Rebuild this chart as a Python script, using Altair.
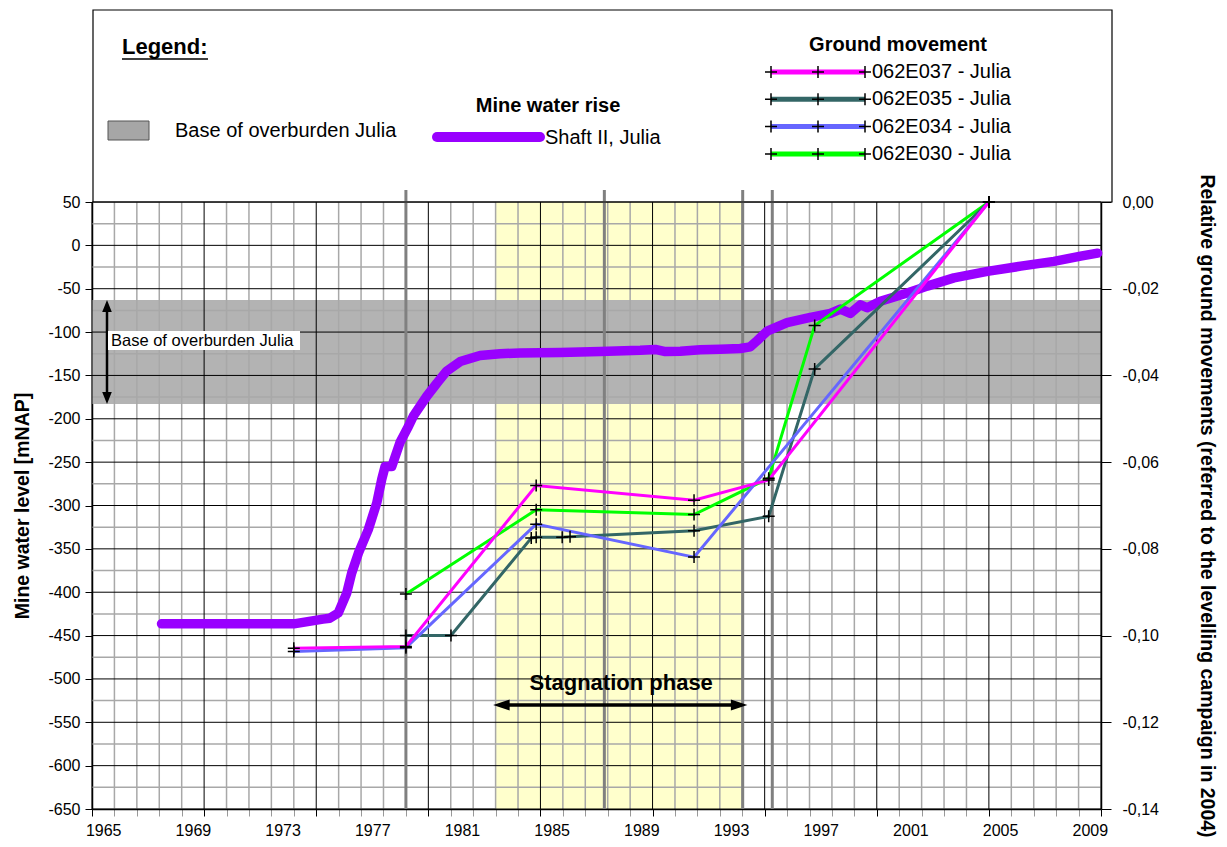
import altair as alt
import pandas as pd

FONT = "Liberation Sans, Arial, Helvetica, sans-serif"

# ---------------- data ----------------
shaft_year = [1967.6, 1973.5, 1974.8, 1975.1, 1975.48, 1975.86, 1976.08, 1976.38, 1976.82,
              1977.2, 1977.42, 1977.57, 1977.87, 1978.24, 1978.61, 1978.83, 1979.43, 1979.88,
              1980.32, 1980.92, 1981.81, 1982.7, 1983.59, 1985.38, 1987.16, 1988.95, 1989.62,
              1990.07, 1990.74, 1991.63, 1992.52, 1993.41, 1993.86, 1994.16, 1994.61, 1995.5,
              1996.54, 1997.43, 1997.88, 1998.32, 1998.77, 1999.07, 1999.66, 2000.86, 2001.75,
              2002.94, 2004.43, 2005.92, 2007.4, 2008.59, 2009.35]
shaft_level = [-436.5, -436.5, -431, -430, -424, -401, -378, -355, -328,
               -297, -270, -255, -255, -227, -209, -197, -174, -159,
               -145, -134, -127, -125, -124, -123.5, -122.5, -121, -120,
               -122.5, -122, -120.5, -119.7, -119, -117, -110, -99, -89,
               -83, -78.5, -73.5, -78.5, -68.5, -72, -64.5, -55, -47,
               -37.5, -30, -24, -18.5, -12.5, -9]

g037_year = [1973.5, 1978.5, 1984.31, 1991.35, 1994.68, 2004.5]
g037_val = [-0.1029, -0.1025, -0.0654, -0.0688, -0.0641, 0.0]
g035_year = [1978.5, 1980.51, 1984.09, 1984.31, 1985.47, 1985.82, 1991.35, 1994.68, 1996.73, 2004.5]
g035_val = [-0.1, -0.1, -0.0775, -0.0773, -0.0773, -0.0772, -0.0758, -0.0725, -0.0385, 0.0]
g034_year = [1973.5, 1978.5, 1984.31, 1991.35, 2004.5]
g034_val = [-0.1037, -0.1028, -0.0743, -0.0819, 0.0]
g030_year = [1978.5, 1984.31, 1991.35, 1994.68, 1996.73, 2004.5]
g030_val = [-0.0904, -0.071, -0.0721, -0.0637, -0.0285, 0.0]

series_names = ["062E037 - Julia", "062E035 - Julia", "062E034 - Julia", "062E030 - Julia"]
series_colors = ["#ff00ff", "#336666", "#6666ff", "#00ff00"]

x_label_years = list(range(1965, 2010, 4))
left_ticks = list(range(-650, 51, 50))
right_ticks = [0.0, -0.02, -0.04, -0.06, -0.08, -0.10, -0.12, -0.14]

overburden_base = [-183, -63]
stagnation = [1982.5, 1993.52]
event_years = [1978.5, 1987.35, 1993.52, 1994.84]

# ---------------- layout ----------------
W, H = 1009, 607
X0, X1 = 1964.5, 2009.5
PURPLE = "#9900ff"
CROSS = "M-1,0L1,0M0,-1L0,1"
UP = "M0,0L-0.6,1.5L0.6,1.5Z"
DOWN = "M0,0L-0.6,-1.5L0.6,-1.5Z"
LEFT = "M0,0L1.5,-0.5L1.5,0.5Z"
RIGHT = "M0,0L-1.5,-0.5L-1.5,0.5Z"

xscale = alt.Scale(domain=[X0, X1], nice=False, zero=False)
yscale = alt.Scale(domain=[-650, 50], nice=False, zero=False)
rscale = alt.Scale(domain=[-0.14, 0], nice=False, zero=False)

grid_x = [X0 + k for k in range(int(X1 - X0) + 1)]
grid_y = list(range(-650, 51, 25))

xaxis = alt.Axis(
    values=grid_x, title=None, grid=False, domainColor="black", domainWidth=1.5,
    tickSize=7, tickWidth=1,
    tickColor={"condition": {"test": "round(datum.value - 1964.5) % 5 == 0", "value": "black"},
               "value": "#999999"},
    labelExpr="round(datum.value - 1964.5) % 4 == 0 ? '' + round(datum.value + 0.5) : ''",
    labelOffset=11.2, labelFontSize=16, labelFont=FONT, labelColor="black",
    labelPadding=6, labelOverlap=False, labelFlush=False,
)
yaxis = alt.Axis(
    values=left_ticks, title="Mine water level [mNAP]", grid=False,
    tickSize=7, tickColor="black", domainColor="black", domainWidth=1.5,
    labelExpr="(datum.value < 0 ? '-' : '') + abs(datum.value)",
    labelFontSize=16, labelFont=FONT, labelColor="black", labelPadding=5,
    titleFont=FONT, titleFontSize=19.5, titleFontWeight="bold", titleColor="black",
    titlePadding=15,
)
raxis = alt.Axis(
    values=right_ticks, orient="right", grid=False,
    title="Relative ground movements (referred to the levelling campaign in 2004)",
    tickSize=10, tickColor="black", domainColor="black", domainWidth=1.5,
    labelExpr="(datum.value < -0.0001 ? '-' : '') + replace(format(abs(datum.value), '.2f'), '.', ',')",
    labelFontSize=16, labelFont=FONT, labelColor="black", labelPadding=11,
    titleFont=FONT, titleFontSize=19.5, titleFontWeight="bold", titleColor="black",
    titlePadding=38,
)


def xq(f):
    return alt.X(f, type="quantitative", scale=xscale, axis=xaxis)


def yl(f):
    return alt.Y(f, type="quantitative", scale=yscale, axis=yaxis)


def yr(f):
    return alt.Y(f, type="quantitative", scale=rscale, axis=raxis)


one = pd.DataFrame({"a": [0]})

# ---------------- left (mine water) group ----------------
stag_df = pd.DataFrame({"x1": [stagnation[0]], "x2": [stagnation[1]]})
yellow = alt.Chart(stag_df).mark_rect(color="#ffffcc").encode(
    x=xq("x1"), x2="x2", y=alt.value(0), y2=alt.value(H))

band_df = pd.DataFrame({"y1": [overburden_base[0]], "y2": [overburden_base[1]]})
band = alt.Chart(band_df).mark_rect(color="#b3b3b3").encode(
    y=yl("y1"), y2="y2", x=alt.value(0), x2=alt.value(W))

gx = pd.DataFrame({"g": grid_x})
gx["major"] = [(round(v - X0) % 5 == 0) for v in grid_x]
gy = pd.DataFrame({"g": grid_y})
gy["major"] = [(v % 50 == 0) for v in grid_y]

vgrid_minor = alt.Chart(gx).transform_filter("!datum.major").mark_rule(
    color="#a8a8a8", strokeWidth=1.5).encode(x=xq("g"), y=alt.value(0), y2=alt.value(H))
vgrid_major = alt.Chart(gx).transform_filter("datum.major").mark_rule(
    color="black", strokeWidth=1).encode(x=xq("g"), y=alt.value(0), y2=alt.value(H))
hgrid_minor = alt.Chart(gy).transform_filter("!datum.major").mark_rule(
    color="#a8a8a8", strokeWidth=1.5).encode(y=yl("g"), x=alt.value(0), x2=alt.value(W))
hgrid_major = alt.Chart(gy).transform_filter("datum.major").mark_rule(
    color="black", strokeWidth=1).encode(y=yl("g"), x=alt.value(0), x2=alt.value(W))

ev_df = pd.DataFrame({"x": event_years})
events = alt.Chart(ev_df).mark_rule(color="#808080", strokeWidth=3).encode(
    x=xq("x"), y=alt.value(-12), y2=alt.value(H))

shaft_df = pd.DataFrame({"year": shaft_year, "level": shaft_level})
shaft = alt.Chart(shaft_df).mark_line(
    color=PURPLE, strokeWidth=9.5, strokeCap="round", strokeJoin="round").encode(
    x=xq("year"), y=yl("level"))

# base-of-overburden arrow and label
barrow_df = pd.DataFrame({"y1": [overburden_base[1] - 10], "y2": [overburden_base[0] + 10]})
barrow = alt.Chart(barrow_df).mark_rule(color="black", strokeWidth=2.5).encode(
    x=alt.value(15), y=yl("y1"), y2="y2")
bhead_up = alt.Chart(pd.DataFrame({"y": [overburden_base[1]]})).mark_point(
    shape=UP, size=256, filled=True, color="black", opacity=1).encode(x=alt.value(15), y=yl("y"))
bhead_dn = alt.Chart(pd.DataFrame({"y": [overburden_base[0]]})).mark_point(
    shape=DOWN, size=256, filled=True, color="black", opacity=1).encode(x=alt.value(15), y=yl("y"))
blabel_box = alt.Chart(one).mark_rect(color="white").encode(
    x=alt.value(16), x2=alt.value(208), y=alt.value(129), y2=alt.value(148))
blabel = alt.Chart(one).mark_text(
    text="Base of overburden Julia", align="left", baseline="middle",
    font=FONT, fontSize=16.5, color="black").encode(x=alt.value(19), y=alt.value(139))

# stagnation phase arrow
stag_y = -530
sarrow = alt.Chart(pd.DataFrame({"x1": [1982.9], "x2": [1993.3], "y": [stag_y]})).mark_rule(
    color="black", strokeWidth=3.5).encode(x=xq("x1"), x2="x2", y=yl("y"))
shead_l = alt.Chart(pd.DataFrame({"x": [1982.39], "y": [stag_y]})).mark_point(
    shape=LEFT, size=484, filled=True, color="black", opacity=1).encode(x=xq("x"), y=yl("y"))
shead_r = alt.Chart(pd.DataFrame({"x": [1993.73], "y": [stag_y]})).mark_point(
    shape=RIGHT, size=484, filled=True, color="black", opacity=1).encode(x=xq("x"), y=yl("y"))
stext = alt.Chart(pd.DataFrame({"x": [1988.1], "y": [-505]})).mark_text(
    text="Stagnation phase", font=FONT, fontSize=22, fontWeight="bold",
    align="center", baseline="middle", color="black").encode(x=xq("x"), y=yl("y"))

# legend block (above the plot)
leg_box = alt.Chart(one).mark_rect(fill="white", fillOpacity=0, stroke="black", strokeWidth=1.2).encode(
    x=alt.value(1), x2=alt.value(1020), y=alt.value(-192), y2=alt.value(0))
leg_title = alt.Chart(one).mark_text(
    text="Legend:", font=FONT, fontSize=22, fontWeight="bold", align="left",
    baseline="middle", color="black").encode(x=alt.value(30), y=alt.value(-155))
leg_ul = alt.Chart(one).mark_rule(color="black", strokeWidth=1.5).encode(
    x=alt.value(30), x2=alt.value(116), y=alt.value(-143))
leg_swatch = alt.Chart(one).mark_rect(fill="#a6a6a6", stroke="#555555", strokeWidth=1).encode(
    x=alt.value(16), x2=alt.value(57), y=alt.value(-81), y2=alt.value(-62))
leg_swatch_t = alt.Chart(one).mark_text(
    text="Base of overburden Julia", font=FONT, fontSize=20, align="left",
    baseline="middle", color="black").encode(x=alt.value(83), y=alt.value(-71))
leg_mwr = alt.Chart(one).mark_text(
    text="Mine water rise", font=FONT, fontSize=20, fontWeight="bold", align="center",
    baseline="middle", color="black").encode(x=alt.value(456), y=alt.value(-96))
leg_pl = alt.Chart(one).mark_rule(color=PURPLE, strokeWidth=10, strokeCap="round").encode(
    x=alt.value(345), x2=alt.value(448), y=alt.value(-65))
leg_pl_t = alt.Chart(one).mark_text(
    text="Shaft II, Julia", font=FONT, fontSize=20, align="left",
    baseline="middle", color="black").encode(x=alt.value(453), y=alt.value(-64))
leg_gm = alt.Chart(one).mark_text(
    text="Ground movement", font=FONT, fontSize=20, fontWeight="bold", align="center",
    baseline="middle", color="black").encode(x=alt.value(806), y=alt.value(-157))

leg_layers = [leg_box, leg_title, leg_ul, leg_swatch, leg_swatch_t, leg_mwr, leg_pl, leg_pl_t, leg_gm]
for i, (nm, col) in enumerate(zip(series_names, series_colors)):
    ry = -130 + 27.3 * i
    leg_layers.append(alt.Chart(one).mark_rule(color=col, strokeWidth=5).encode(
        x=alt.value(679), x2=alt.value(773), y=alt.value(ry)))
    for mx in (679, 726, 773):
        leg_layers.append(alt.Chart(one).mark_point(
            shape=CROSS, size=144, filled=False, color="black", strokeWidth=1.5, opacity=1).encode(
            x=alt.value(mx), y=alt.value(ry)))
    leg_layers.append(alt.Chart(one).mark_text(
        text=nm, font=FONT, fontSize=20, align="left", baseline="middle", color="black").encode(
        x=alt.value(780), y=alt.value(ry)))

left_group = alt.layer(
    yellow, band, vgrid_minor, hgrid_minor, vgrid_major, hgrid_major, events, shaft,
    barrow, bhead_up, bhead_dn, blabel_box, blabel, sarrow, shead_l, shead_r, stext,
    *leg_layers,
)

# ---------------- right (ground movement) group ----------------
rows = []
for nm, yrs, vals in zip(series_names, [g037_year, g035_year, g034_year, g030_year],
                         [g037_val, g035_val, g034_val, g030_val]):
    for yv, vv in zip(yrs, vals):
        rows.append({"series": nm, "year": yv, "val": vv})
gm_df = pd.DataFrame(rows)

draw_order = [3, 1, 2, 0]  # green, teal, blue, magenta on top
gm_layers = []
for idx in draw_order:
    nm, col = series_names[idx], series_colors[idx]
    gm_layers.append(alt.Chart(gm_df).transform_filter(alt.datum.series == nm).mark_line(
        color=col, strokeWidth=3).encode(x=xq("year"), y=yr("val"), order="year:Q"))
gm_marks = alt.Chart(gm_df).mark_point(
    shape=CROSS, size=144, filled=False, color="black", strokeWidth=1.5, opacity=1).encode(
    x=xq("year"), y=yr("val"))

right_group = alt.layer(*gm_layers, gm_marks)

chart = alt.layer(left_group, right_group).resolve_scale(y="independent").properties(
    width=W, height=H,
    autosize=alt.AutoSizeParams(type="none"),
    padding={"left": 84, "top": 194, "right": 118, "bottom": 38},
).configure_view(stroke=None).configure(background="white")

chart.save("out.html", embed_options={"renderer": "svg", "actions": False})
